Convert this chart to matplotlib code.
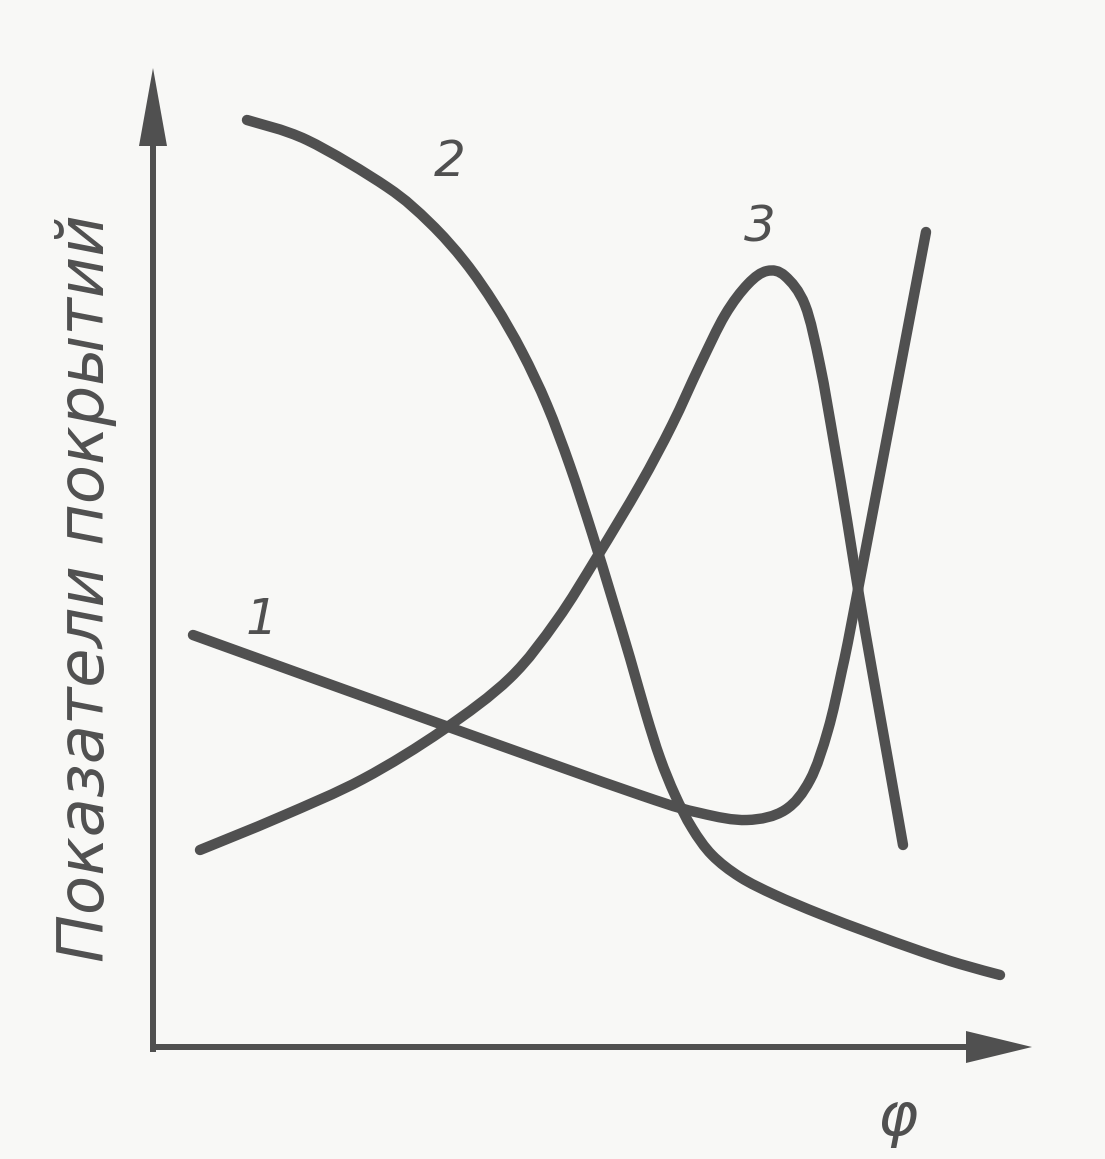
import numpy as np
import matplotlib
matplotlib.use('Agg')
import matplotlib.pyplot as plt
from matplotlib.path import Path
from matplotlib.patches import PathPatch

# schematic curves (x right, y down, image units)
c1_x = [193, 443, 640, 700, 747, 785, 810, 828, 842, 856, 926]
c1_y = [635, 725, 795, 813, 820, 810, 780, 730, 670, 600, 232]

c2_x = [247, 307, 387, 430, 465, 495, 522, 547, 570, 592, 612, 630, 646, 660, 675, 692, 712, 740, 775, 820, 870, 920, 960, 1000]
c2_y = [120, 140, 187, 223, 262, 305, 352, 405, 466, 533, 598, 658, 714, 758, 795, 828, 855, 877, 895, 914, 933, 951, 964, 975]

c3_x = [200, 280, 363, 443, 510, 557, 597, 640, 672, 700, 725, 748, 767, 785, 805, 820, 834, 847, 859, 872, 888, 903]
c3_y = [850, 817, 779, 730, 678, 620, 557, 485, 425, 365, 315, 284, 271, 276, 305, 365, 443, 520, 595, 670, 760, 845]

labels = ['1', '2', '3']
label_pos = [(262, 620), (450, 162), (760, 228)]

INK = '#505050'
PAPER = '#f8f8f6'


def smooth_path(xs, ys):
    # Catmull-Rom through the read points, drawn as cubic Bezier segments
    p = np.column_stack([xs, ys]).astype(float)
    p = np.vstack([p[0], p, p[-1]])
    verts = [p[1]]
    codes = [Path.MOVETO]
    for i in range(1, len(p) - 2):
        c1 = p[i] + (p[i + 1] - p[i - 1]) / 6
        c2 = p[i + 1] - (p[i + 2] - p[i]) / 6
        verts += [c1, c2, p[i + 1]]
        codes += [Path.CURVE4] * 3
    return Path(verts, codes)


fig = plt.figure(figsize=(11.05, 11.59), dpi=100, facecolor=PAPER)
ax = fig.add_axes([0, 0, 1, 1])
ax.set_facecolor(PAPER)
ax.set_xlim(0, 1105)
ax.set_ylim(1159, 0)
ax.axis('off')

# axes with arrows
ax.arrow(155, 1047, 877, 0, width=6, head_width=32, head_length=66,
         length_includes_head=True, color=INK, lw=0)
ax.arrow(153, 1052, 0, -984, width=6, head_width=28, head_length=78,
         length_includes_head=True, color=INK, lw=0)

for xs, ys in [(c1_x, c1_y), (c2_x, c2_y), (c3_x, c3_y)]:
    ax.add_patch(PathPatch(smooth_path(xs, ys), facecolor='none', edgecolor=INK,
                           lw=7.5, capstyle='round', joinstyle='round'))

for lab, (x, y) in zip(labels, label_pos):
    ax.text(x, y, lab, fontsize=36, style='italic', color=INK, ha='center', va='center')

ax.text(86, 588, 'Показатели покрытий', rotation=90, fontsize=46, style='italic',
        color=INK, ha='center', va='center')
ax.text(897, 1118, 'φ', fontsize=44, style='italic', color=INK, ha='center', va='center')

fig.savefig('out.png', dpi=100, facecolor=PAPER)
